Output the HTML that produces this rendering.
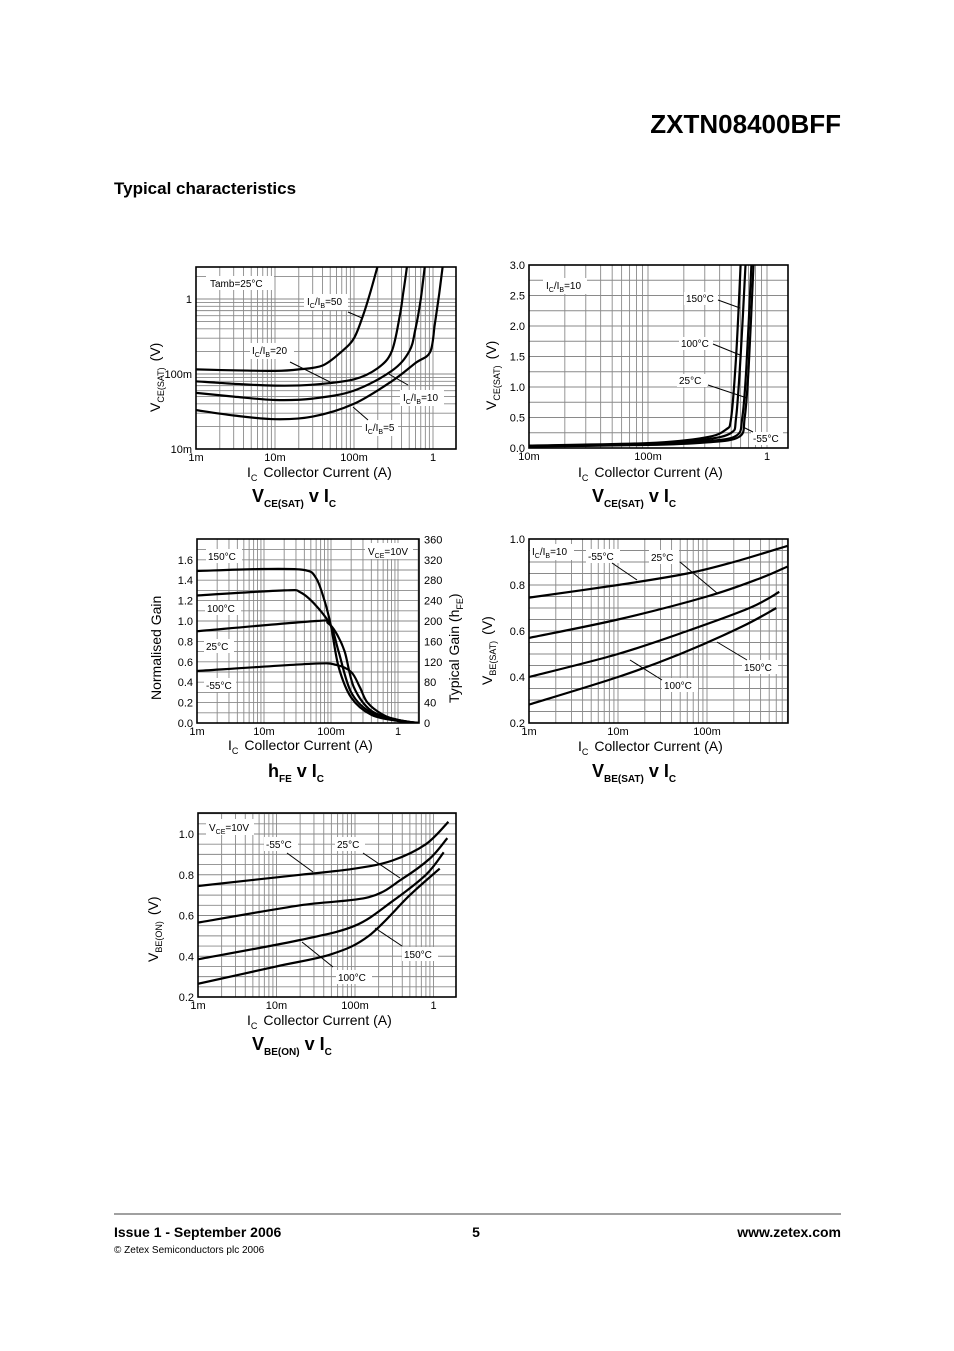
<!DOCTYPE html>
<html><head><meta charset="utf-8"><style>
html,body{margin:0;padding:0;background:#fff}
svg{display:block;font-family:"Liberation Sans",Arial,sans-serif}
.t{font-size:11px}.a{font-size:10px}.ax{font-size:14px}.ct{font-size:18px;font-weight:bold}
</style></head><body>
<svg id="page" width="954" height="1351" viewBox="0 0 954 1351" xmlns="http://www.w3.org/2000/svg">
<rect width="954" height="1351" fill="#fff"/>
<text x="841" y="133" text-anchor="end" font-size="26" font-weight="bold">ZXTN08400BFF</text>
<text x="114" y="194" font-size="17" font-weight="bold">Typical characteristics</text>
<line x1="114" y1="1214" x2="841" y2="1214" stroke="#000" stroke-width="0.8"/>
<text x="114" y="1237" font-size="14" font-weight="bold">Issue 1 - September 2006</text>
<text x="476" y="1237" font-size="14" font-weight="bold" text-anchor="middle">5</text>
<text x="841" y="1237" font-size="14" font-weight="bold" text-anchor="end">www.zetex.com</text>
<text x="114" y="1253" font-size="10">© Zetex Semiconductors plc 2006</text>
<g id="charts"></g>
<g id="labels" fill="#000">
<!-- Chart 1 -->
<g>
<rect x="206" y="276" width="68" height="14" fill="#fff"/><text class="a" x="210" y="287">Tamb=25°C</text>
<rect x="304" y="294" width="44" height="16" fill="#fff"/><text class="a" x="307" y="305">I<tspan dy="3" font-size="7">C</tspan><tspan dy="-3">/I</tspan><tspan dy="3" font-size="7">B</tspan><tspan dy="-3">=50</tspan></text>
<line x1="348" y1="312" x2="362" y2="318" stroke="#000"/>
<rect x="250" y="343" width="44" height="16" fill="#fff"/><text class="a" x="252" y="354">I<tspan dy="3" font-size="7">C</tspan><tspan dy="-3">/I</tspan><tspan dy="3" font-size="7">B</tspan><tspan dy="-3">=20</tspan></text>
<line x1="290" y1="362" x2="330" y2="382" stroke="#000"/>
<rect x="400" y="390" width="44" height="16" fill="#fff"/><text class="a" x="403" y="401">I<tspan dy="3" font-size="7">C</tspan><tspan dy="-3">/I</tspan><tspan dy="3" font-size="7">B</tspan><tspan dy="-3">=10</tspan></text>
<line x1="387" y1="373" x2="408" y2="385" stroke="#000"/>
<rect x="362" y="420" width="36" height="16" fill="#fff"/><text class="a" x="365" y="431">I<tspan dy="3" font-size="7">C</tspan><tspan dy="-3">/I</tspan><tspan dy="3" font-size="7">B</tspan><tspan dy="-3">=5</tspan></text>
<line x1="353" y1="407" x2="368" y2="420" stroke="#000"/>
</g>
<g>
<rect x="543" y="278" width="44" height="16" fill="#fff"/><text class="a" x="546" y="289">I<tspan dy="3" font-size="7">C</tspan><tspan dy="-3">/I</tspan><tspan dy="3" font-size="7">B</tspan><tspan dy="-3">=10</tspan></text>
<rect x="684" y="292" width="34" height="13" fill="#fff"/><text class="a" x="686" y="302">150°C</text><line x1="718" y1="300" x2="740" y2="308" stroke="#000"/>
<rect x="679" y="337" width="34" height="13" fill="#fff"/><text class="a" x="681" y="347">100°C</text><line x1="713" y1="344" x2="740" y2="355" stroke="#000"/>
<rect x="677" y="374" width="30" height="13" fill="#fff"/><text class="a" x="679" y="384">25°C</text><line x1="708" y1="385" x2="747" y2="398" stroke="#000"/>
<rect x="751" y="432" width="32" height="13" fill="#fff"/><text class="a" x="753" y="442">-55°C</text><line x1="743" y1="427" x2="753" y2="432" stroke="#000"/>
</g>
<g>
<rect x="206" y="549" width="36" height="14" fill="#fff"/><text class="a" x="208" y="560">150°C</text>
<rect x="365" y="543" width="48" height="16" fill="#fff"/><text class="a" x="368" y="555">V<tspan dy="3" font-size="7">CE</tspan><tspan dy="-3">=10V</tspan></text>
<rect x="205" y="601" width="36" height="14" fill="#fff"/><text class="a" x="207" y="612">100°C</text>
<rect x="204" y="639" width="30" height="14" fill="#fff"/><text class="a" x="206" y="650">25°C</text>
<rect x="204" y="678" width="32" height="14" fill="#fff"/><text class="a" x="206" y="689">-55°C</text>
</g>
<g>
<rect x="530" y="544" width="44" height="16" fill="#fff"/><text class="a" x="532" y="555">I<tspan dy="3" font-size="7">C</tspan><tspan dy="-3">/I</tspan><tspan dy="3" font-size="7">B</tspan><tspan dy="-3">=10</tspan></text>
<rect x="586" y="549" width="34" height="14" fill="#fff"/><text class="a" x="588" y="560">-55°C</text><line x1="612" y1="563" x2="637" y2="580" stroke="#000"/>
<rect x="649" y="550" width="30" height="14" fill="#fff"/><text class="a" x="651" y="561">25°C</text><line x1="680" y1="562" x2="717" y2="593" stroke="#000"/>
<rect x="742" y="660" width="36" height="14" fill="#fff"/><text class="a" x="744" y="671">150°C</text><line x1="717" y1="642" x2="747" y2="660" stroke="#000"/>
<rect x="662" y="678" width="36" height="14" fill="#fff"/><text class="a" x="664" y="689">100°C</text><line x1="630" y1="660" x2="662" y2="680" stroke="#000"/>
</g>
<g>
<rect x="206" y="819" width="48" height="16" fill="#fff"/><text class="a" x="209" y="831">V<tspan dy="3" font-size="7">CE</tspan><tspan dy="-3">=10V</tspan></text>
<rect x="264" y="837" width="34" height="14" fill="#fff"/><text class="a" x="266" y="848">-55°C</text><line x1="287" y1="853" x2="313" y2="872" stroke="#000"/>
<rect x="335" y="837" width="30" height="14" fill="#fff"/><text class="a" x="337" y="848">25°C</text><line x1="363" y1="853" x2="400" y2="878" stroke="#000"/>
<rect x="402" y="947" width="36" height="14" fill="#fff"/><text class="a" x="404" y="958">150°C</text><line x1="375" y1="928" x2="402" y2="946" stroke="#000"/>
<rect x="336" y="970" width="36" height="14" fill="#fff"/><text class="a" x="338" y="981">100°C</text><line x1="302" y1="942" x2="333" y2="967" stroke="#000"/>
</g>
<!-- axis titles -->
<g>
<text class="ax" x="247" y="477">I<tspan dy="4" font-size="9">C</tspan><tspan dy="-4" dx="6">Collector Current (A)</tspan></text>
<text class="ax" x="578" y="477">I<tspan dy="4" font-size="9">C</tspan><tspan dy="-4" dx="6">Collector Current (A)</tspan></text>
<text class="ax" x="228" y="750">I<tspan dy="4" font-size="9">C</tspan><tspan dy="-4" dx="6">Collector Current (A)</tspan></text>
<text class="ax" x="578" y="751">I<tspan dy="4" font-size="9">C</tspan><tspan dy="-4" dx="6">Collector Current (A)</tspan></text>
<text class="ax" x="247" y="1025">I<tspan dy="4" font-size="9">C</tspan><tspan dy="-4" dx="6">Collector Current (A)</tspan></text>
<text class="ax" transform="translate(160,412) rotate(-90)">V<tspan dy="4" font-size="9">CE(SAT)</tspan><tspan dy="-4" dx="6">(V)</tspan></text>
<text class="ax" transform="translate(496,410) rotate(-90)">V<tspan dy="4" font-size="9">CE(SAT)</tspan><tspan dy="-4" dx="6">(V)</tspan></text>
<text class="ax" transform="translate(161,700) rotate(-90)">Normalised Gain</text>
<text class="ax" transform="translate(459,703) rotate(-90)">Typical Gain (h<tspan dy="4" font-size="9">FE</tspan><tspan dy="-4">)</tspan></text>
<text class="ax" transform="translate(492,685) rotate(-90)">V<tspan dy="4" font-size="9">BE(SAT)</tspan><tspan dy="-4" dx="6">(V)</tspan></text>
<text class="ax" transform="translate(158,962) rotate(-90)">V<tspan dy="4" font-size="9">BE(ON)</tspan><tspan dy="-4" dx="6">(V)</tspan></text>
</g>
<g>
<text class="ct" x="252" y="502">V<tspan dy="5" font-size="10">CE(SAT)</tspan><tspan dy="-5"> v I</tspan><tspan dy="5" font-size="10">C</tspan></text>
<text class="ct" x="592" y="502">V<tspan dy="5" font-size="10">CE(SAT)</tspan><tspan dy="-5"> v I</tspan><tspan dy="5" font-size="10">C</tspan></text>
<text class="ct" x="268" y="777">h<tspan dy="5" font-size="10">FE</tspan><tspan dy="-5"> v I</tspan><tspan dy="5" font-size="10">C</tspan></text>
<text class="ct" x="592" y="777">V<tspan dy="5" font-size="10">BE(SAT)</tspan><tspan dy="-5"> v I</tspan><tspan dy="5" font-size="10">C</tspan></text>
<text class="ct" x="252" y="1050">V<tspan dy="5" font-size="10">BE(ON)</tspan><tspan dy="-5"> v I</tspan><tspan dy="5" font-size="10">C</tspan></text>
</g>
</g>
</svg>
<script>
// ---- Chart 1: VCE(SAT) v IC, Tamb=25C (log/log)
const c1TickX = [0.001, 0.01, 0.1, 1];
const c1TickXLabels = ["1m", "10m", "100m", "1"];
const c1TickY = [0.01, 0.1, 1];
const c1TickYLabels = ["10m", "100m", "1"];
const c1Ib50I = [0.001, 0.003, 0.01, 0.02, 0.04, 0.07, 0.1, 0.13, 0.16, 0.2];
const c1Ib50V = [0.115, 0.112, 0.11, 0.115, 0.13, 0.2, 0.3, 0.6, 1.2, 2.8];
const c1Ib20I = [0.001, 0.003, 0.01, 0.03, 0.1, 0.2, 0.3, 0.38, 0.42, 0.47];
const c1Ib20V = [0.08, 0.074, 0.07, 0.072, 0.085, 0.12, 0.2, 0.6, 1.2, 2.8];
const c1Ib10I = [0.001, 0.003, 0.01, 0.03, 0.1, 0.3, 0.5, 0.6, 0.7, 0.79];
const c1Ib10V = [0.056, 0.05, 0.045, 0.047, 0.06, 0.11, 0.2, 0.4, 1.0, 2.8];
const c1Ib5I = [0.001, 0.003, 0.01, 0.03, 0.1, 0.3, 0.6, 0.92, 1.05, 1.2, 1.33];
const c1Ib5V = [0.033, 0.028, 0.025, 0.027, 0.04, 0.08, 0.14, 0.196, 0.45, 1.2, 2.8];
// ---- Chart 2: VCE(SAT) v IC, IC/IB=10 (linear y)
const c2TickX = [0.01, 0.1, 1];
const c2TickXLabels = ["10m", "100m", "1"];
const c2TickY = [0, 0.5, 1, 1.5, 2, 2.5, 3];
const c2TickYLabels = ["0.0", "0.5", "1.0", "1.5", "2.0", "2.5", "3.0"];
const c2T150I = [0.01, 0.1, 0.3, 0.45, 0.5, 0.55, 0.6];
const c2T150V = [0.04, 0.08, 0.17, 0.3, 0.5, 1.5, 3.0];
const c2T100I = [0.01, 0.1, 0.3, 0.5, 0.55, 0.6, 0.66];
const c2T100V = [0.035, 0.07, 0.14, 0.25, 0.5, 1.5, 3.0];
const c2T25I = [0.01, 0.1, 0.3, 0.55, 0.62, 0.67, 0.74];
const c2T25V = [0.03, 0.06, 0.11, 0.2, 0.5, 1.3, 3.0];
const c2Tm55I = [0.01, 0.1, 0.3, 0.58, 0.65, 0.7, 0.77];
const c2Tm55V = [0.025, 0.05, 0.09, 0.18, 0.5, 1.3, 3.0];
// ---- Chart 3: hFE v IC
const c3TickX = [0.001, 0.01, 0.1, 1];
const c3TickXLabels = ["1m", "10m", "100m", "1"];
const c3TickY = [0, 0.2, 0.4, 0.6, 0.8, 1.0, 1.2, 1.4, 1.6];
const c3TickYLabels = ["0.0", "0.2", "0.4", "0.6", "0.8", "1.0", "1.2", "1.4", "1.6"];
const c3TickY2 = [0, 40, 80, 120, 160, 200, 240, 280, 320, 360];
const c3T150I = [0.001, 0.01, 0.04, 0.06, 0.08, 0.1, 0.13, 0.2, 0.4, 1, 2];
const c3T150G = [1.49, 1.51, 1.5, 1.42, 1.2, 0.95, 0.55, 0.25, 0.08, 0.02, 0];
const c3T100I = [0.001, 0.02, 0.035, 0.06, 0.1, 0.13, 0.2, 0.4, 1, 2];
const c3T100G = [1.25, 1.3, 1.28, 1.15, 0.95, 0.7, 0.3, 0.1, 0.03, 0];
const c3T25I = [0.001, 0.06, 0.09, 0.12, 0.16, 0.22, 0.4, 1, 2];
const c3T25G = [0.9, 1.0, 0.98, 0.88, 0.7, 0.35, 0.12, 0.03, 0];
const c3Tm55I = [0.001, 0.05, 0.12, 0.2, 0.27, 0.35, 0.6, 1, 2];
const c3Tm55G = [0.51, 0.58, 0.57, 0.5, 0.35, 0.2, 0.08, 0.03, 0];
// ---- Chart 4: VBE(SAT) v IC
const c4TickX = [0.001, 0.01, 0.1];
const c4TickXLabels = ["1m", "10m", "100m"];
const c4TickY = [0.2, 0.4, 0.6, 0.8, 1.0];
const c4TickYLabels = ["0.2", "0.4", "0.6", "0.8", "1.0"];
const c4Tm55I = [0.001, 0.01, 0.06, 0.2, 0.8];
const c4Tm55V = [0.745, 0.8, 0.85, 0.9, 0.97];
const c4T25I = [0.001, 0.01, 0.1, 0.4, 0.8];
const c4T25V = [0.57, 0.65, 0.75, 0.83, 0.88];
const c4T100I = [0.001, 0.01, 0.06, 0.3, 0.65];
const c4T100V = [0.4, 0.5, 0.6, 0.7, 0.77];
const c4T150I = [0.001, 0.01, 0.05, 0.25, 0.6];
const c4T150V = [0.28, 0.4, 0.5, 0.62, 0.7];
// ---- Chart 5: VBE(ON) v IC
const c5TickX = [0.001, 0.01, 0.1, 1];
const c5TickXLabels = ["1m", "10m", "100m", "1"];
const c5TickY = [0.2, 0.4, 0.6, 0.8, 1.0];
const c5TickYLabels = ["0.2", "0.4", "0.6", "0.8", "1.0"];
const c5Tm55I = [0.001, 0.02, 0.1, 0.3, 0.8, 1.55];
const c5Tm55V = [0.745, 0.8, 0.83, 0.87, 0.95, 1.06];
const c5T25I = [0.001, 0.02, 0.15, 0.4, 0.9, 1.5];
const c5T25V = [0.565, 0.65, 0.69, 0.78, 0.88, 0.98];
const c5T100I = [0.001, 0.02, 0.1, 0.3, 0.8, 1.35];
const c5T100V = [0.385, 0.48, 0.55, 0.67, 0.8, 0.91];
const c5T150I = [0.001, 0.01, 0.05, 0.15, 0.5, 1.2];
const c5T150V = [0.265, 0.35, 0.41, 0.5, 0.7, 0.83];

const NS = "http://www.w3.org/2000/svg";
const root = document.getElementById("charts");
function mk(tag, attrs, parent) {
  const e = document.createElementNS(NS, tag);
  for (const k in attrs) e.setAttribute(k, attrs[k]);
  parent.appendChild(e);
  return e;
}
function smooth(pts) {
  let d = "M" + pts[0][0].toFixed(1) + "," + pts[0][1].toFixed(1);
  for (let i = 0; i < pts.length - 1; i++) {
    const p0 = pts[Math.max(i - 1, 0)], p1 = pts[i], p2 = pts[i + 1], p3 = pts[Math.min(i + 2, pts.length - 1)];
    const c1x = p1[0] + (p2[0] - p0[0]) / 6, c1y = p1[1] + (p2[1] - p0[1]) / 6;
    const c2x = p2[0] - (p3[0] - p1[0]) / 6, c2y = p2[1] - (p3[1] - p1[1]) / 6;
    d += " C" + c1x.toFixed(1) + "," + c1y.toFixed(1) + " " + c2x.toFixed(1) + "," + c2y.toFixed(1) + " " + p2[0].toFixed(1) + "," + p2[1].toFixed(1);
  }
  return d;
}
let chartNo = 0;
function chart(cfg) {
  chartNo++;
  const g = mk("g", {}, root);
  
  
  const L = cfg.x0, R = cfg.x1, T = cfg.y0, B = cfg.y1;
  const sx = v => L + Math.log10(v / cfg.xmin) * cfg.xdec;
  const sy = cfg.ylog ? (v => B - Math.log10(v / cfg.ymin) * cfg.ydec) : (v => B - (v - cfg.ymin) * cfg.ydec);
  const clipId = "clip" + chartNo;
  const cp = mk("clipPath", { id: clipId }, g);
  mk("rect", { x: L, y: T, width: R - L, height: B - T }, cp);
  const grid = mk("g", { stroke: "#8a8a8a", "stroke-width": "0.9" }, g);
  
  
  // x log grid
  for (let dec = cfg.xmin; dec < 100; dec *= 10) {
    for (let m = 1; m <= 9; m++) {
      const x = sx(dec * m);
      if (x > L + 0.5 && x < R - 0.5) mk("line", { x1: x, y1: T, x2: x, y2: B }, grid);
    }
  }
  if (cfg.ylog) {
    for (let dec = cfg.ymin; dec < 100; dec *= 10) {
      for (let m = 1; m <= 9; m++) {
        const y = sy(dec * m);
        if (y > T + 0.5 && y < B - 0.5) mk("line", { x1: L, y1: y, x2: R, y2: y }, grid);
      }
    }
  } else {
    for (let v = cfg.ymin; sy(v) > T; v += cfg.ystep) {
      const y = sy(v);
      if (y > T + 0.5 && y < B - 0.5) mk("line", { x1: L, y1: y, x2: R, y2: y }, grid);
    }
  }
  // ticks labels
  cfg.tx.forEach((v, i) => {
    const t = mk("text", { x: sx(v), y: B + 12, "text-anchor": "middle", class: "t" }, g);
    
    
    t.textContent = cfg.txl[i];
  });
  cfg.ty.forEach((v, i) => {
    const t = mk("text", { x: L - 4, y: sy(v) + 4, "text-anchor": "end", class: "t" }, g);
    
    
    t.textContent = cfg.tyl[i];
  });
  if (cfg.ty2) {
    cfg.ty2.forEach(v => {
      const t = mk("text", { x: R + 5, y: sy(v / 200) + 4, class: "t" }, g);
      
      
      t.textContent = String(v);
    });
  }
  const cg = mk("g", { "clip-path": "url(#" + clipId + ")", fill: "none", stroke: "#000", "stroke-width": "2.2", "stroke-linejoin": "round" }, g);
  cfg.series.forEach(s => {
    const pts = s.x.map((xv, i) => [sx(xv), sy(s.y[i])]);
    const p = mk("path", { d: smooth(pts) }, cg);
    
    
  });
  const fr = mk("rect", { x: L, y: T, width: R - L, height: B - T, fill: "none", stroke: "#000", "stroke-width": "1.6" }, g);
  
  
}
chart({ x0: 196, x1: 456, y0: 267, y1: 449, xmin: 0.001, xdec: 79, ylog: true, ymin: 0.01, ydec: 75,
  tx: c1TickX, txl: c1TickXLabels, ty: c1TickY, tyl: c1TickYLabels,
  series: [{ name: "curve-ic-ib-50", x: c1Ib50I, y: c1Ib50V }, { name: "curve-ic-ib-20", x: c1Ib20I, y: c1Ib20V },
           { name: "curve-ic-ib-10", x: c1Ib10I, y: c1Ib10V }, { name: "curve-ic-ib-5", x: c1Ib5I, y: c1Ib5V }] });
chart({ x0: 529, x1: 788, y0: 265, y1: 448, xmin: 0.01, xdec: 119, ylog: false, ymin: 0, ydec: 61, ystep: 0.25,
  tx: c2TickX, txl: c2TickXLabels, ty: c2TickY, tyl: c2TickYLabels,
  series: [{ name: "curve-150c", x: c2T150I, y: c2T150V }, { name: "curve-100c", x: c2T100I, y: c2T100V },
           { name: "curve-25c", x: c2T25I, y: c2T25V }, { name: "curve-minus55c", x: c2Tm55I, y: c2Tm55V }] });
chart({ x0: 197, x1: 419, y0: 539, y1: 723, xmin: 0.001, xdec: 67, ylog: false, ymin: 0, ydec: 102, ystep: 0.1,
  tx: c3TickX, txl: c3TickXLabels, ty: c3TickY, tyl: c3TickYLabels, ty2: c3TickY2,
  series: [{ name: "curve-150c", x: c3T150I, y: c3T150G }, { name: "curve-100c", x: c3T100I, y: c3T100G },
           { name: "curve-25c", x: c3T25I, y: c3T25G }, { name: "curve-minus55c", x: c3Tm55I, y: c3Tm55G }] });
chart({ x0: 529, x1: 788, y0: 539, y1: 723, xmin: 0.001, xdec: 89, ylog: false, ymin: 0.2, ydec: 230, ystep: 0.05,
  tx: c4TickX, txl: c4TickXLabels, ty: c4TickY, tyl: c4TickYLabels,
  series: [{ name: "curve-minus55c", x: c4Tm55I, y: c4Tm55V }, { name: "curve-25c", x: c4T25I, y: c4T25V },
           { name: "curve-100c", x: c4T100I, y: c4T100V }, { name: "curve-150c", x: c4T150I, y: c4T150V }] });
chart({ x0: 198, x1: 456, y0: 813, y1: 997, xmin: 0.001, xdec: 78.5, ylog: false, ymin: 0.2, ydec: 203.75, ystep: 0.05,
  tx: c5TickX, txl: c5TickXLabels, ty: c5TickY, tyl: c5TickYLabels,
  series: [{ name: "curve-minus55c", x: c5Tm55I, y: c5Tm55V }, { name: "curve-25c", x: c5T25I, y: c5T25V },
           { name: "curve-100c", x: c5T100I, y: c5T100V }, { name: "curve-150c", x: c5T150I, y: c5T150V }] });
// keep annotation labels on top of charts
document.getElementById("page").appendChild(document.getElementById("labels"));
</script>
</body></html>
